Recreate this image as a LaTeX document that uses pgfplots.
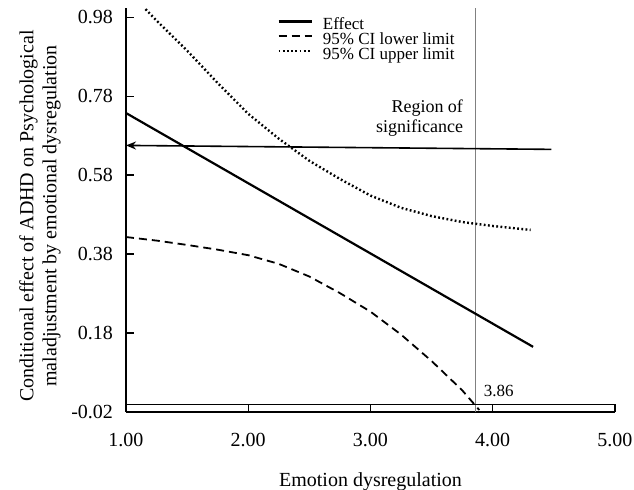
\documentclass[border=0pt]{standalone}
\usepackage{fontspec}
\setmainfont{Liberation Serif}
\usepackage{pgfplots}
\pgfplotsset{compat=1.18}
\usetikzlibrary{arrows.meta}

\begin{document}
\begin{tikzpicture}
\useasboundingbox (-63pt,-39pt) rectangle (254pt,206pt);
\begin{axis}[
  scale only axis, width=244.5pt, height=202pt,
  xmin=1, xmax=5, ymin=-0.02, ymax=1.003,
  axis x line*=bottom, axis y line*=left,
  axis line style={line width=0.55pt},
  clip=false,
  xtick={1,2,3,4,5}, xticklabels={1.00,2.00,3.00,4.00,5.00},
  ytick={-0.02,0.18,0.38,0.58,0.78,0.98},
  yticklabels={-0.02,0.18,0.38,0.58,0.78,0.98},
  tick align=inside, major tick length=4pt,
  tick style={black, line width=0.55pt},
  ticklabel style={font=\fontsize{10}{12}\selectfont},
  xticklabel style={anchor=center, yshift=-14pt},
  yticklabel style={xshift=-3pt},
  xlabel={Emotion dysregulation},
  xlabel style={at={(axis description cs:0.5,-0.173)}, anchor=center, font=\fontsize{10}{12}\selectfont},
  ylabel={Conditional effect of ADHD on Psychological\\maladjustment by emotional dysregulation},
  ylabel style={at={(axis description cs:-0.176,0.485)}, anchor=center, align=center, font=\fontsize{10}{11.5}\selectfont},
  legend style={draw=none, fill=none, at={(rel axis cs:0.309,0.976)}, anchor=north west,
                font=\fontsize{8.5}{8.5}\selectfont, row sep=0pt, inner sep=0pt,
                nodes={inner sep=0pt, text height=5.8pt, text depth=1.6pt},
                cells={anchor=west},
                /tikz/every odd column/.style={column sep=5pt}},
  legend image code/.code={\draw[#1] (0pt,2pt) -- (16.5pt,2pt);},
]
% significance boundary and strip
\addplot[gray, line width=0.6pt, forget plot] coordinates {(3.86,-0.02)(3.86,1.003)};
\addplot[black, line width=0.55pt, forget plot] coordinates {(1,0)(5,0)(5,-0.02)};

\addplot[black, line width=1.1pt] coordinates {(1.0,0.737)(4.33,0.145)};
\addlegendentry{Effect}
\addplot[black, line width=0.9pt, dash pattern=on 4pt off 2.5pt] coordinates {
  (1.0,0.423)(1.25,0.414)(1.5,0.403)(1.75,0.391)(2.0,0.377)(2.25,0.355)
  (2.5,0.323)(2.75,0.281)(3.0,0.234)(3.25,0.176)(3.5,0.109)(3.75,0.035)(3.89,-0.015)
};
\addlegendentry{95\% CI lower limit}
\addplot[black, line width=1.2pt, dash pattern=on 0.9pt off 1.2pt] coordinates {
  (1.16,1.0)(1.25,0.971)(1.5,0.895)(1.75,0.813)(2.0,0.735)(2.25,0.672)
  (2.5,0.616)(2.75,0.570)(3.0,0.528)(3.25,0.497)(3.5,0.476)(3.75,0.461)
  (4.0,0.451)(4.31,0.441)
};
\addlegendentry{95\% CI upper limit}

\addplot[black, line width=0.8pt, -{Stealth[length=5pt,width=4pt]}, forget plot]
  coordinates {(4.48,0.645)(1.0,0.655)};

\node[anchor=north east, align=right, inner sep=0pt, font=\fontsize{9}{10}\selectfont]
  at (axis cs:3.76,0.772) {Region of\\significance};
\node[anchor=base west, inner sep=0pt, font=\fontsize{8.5}{10}\selectfont]
  at (axis cs:3.925,0.018) {3.86};
\end{axis}
\end{tikzpicture}
\end{document}
